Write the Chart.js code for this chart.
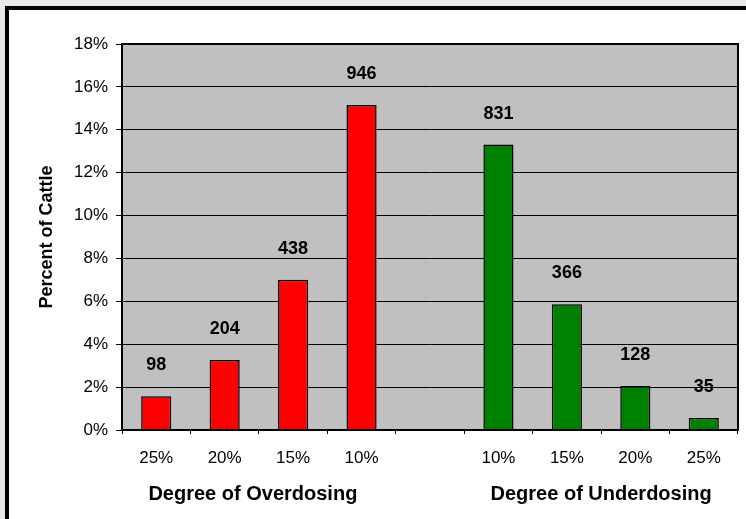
<!DOCTYPE html>
<html>
<head>
<meta charset="utf-8">
<script src="https://cdn.jsdelivr.net/npm/chart.js@4"></script>
<style>
  html, body { margin: 0; padding: 0; background: #e8e8e8; overflow: hidden; width: 746px; height: 519px; }
  #frame { position: absolute; left: 5px; top: 6px; width: 800px; height: 600px; border: 4px solid #000; background: #fff; }
  #wrap { position: absolute; left: 0; top: 0; width: 746px; height: 519px; }
</style>
</head>
<body>
<div id="frame"></div>
<div id="wrap"><canvas id="cattleChart" width="746" height="519"></canvas></div>
<script>
// Data
const categories = ['25%', '20%', '15%', '10%', '', '10%', '15%', '20%', '25%'];
const percentCattle = [1.57, 3.27, 7.01, 15.15, null, 13.31, 5.86, 2.05, 0.56];
const cattleCounts = [98, 204, 438, 946, null, 831, 366, 128, 35];
const groupLabels = ['Degree of Overdosing', 'Degree of Underdosing'];
const groupRanges = [[0, 3], [5, 8]];
const yTitle = 'Percent of Cattle';

const FONT = "'Liberation Sans', Arial, sans-serif";

const plotBackground = {
  id: 'plotBackground',
  beforeDraw(chart) {
    const { ctx, chartArea: a } = chart;
    ctx.save();
    ctx.fillStyle = '#c0c0c0';
    ctx.fillRect(a.left, a.top, a.right - a.left, a.bottom - a.top);
    ctx.restore();
  },
  afterDraw(chart) {
    const { ctx, chartArea: a } = chart;
    ctx.save();
    ctx.strokeStyle = '#000';
    ctx.lineWidth = 2;
    ctx.strokeRect(a.left, a.top, a.right - a.left, a.bottom - a.top);
    ctx.restore();
  }
};

// counts above each bar
const valueLabels = {
  id: 'valueLabels',
  afterDatasetsDraw(chart) {
    const { ctx } = chart;
    const meta = chart.getDatasetMeta(0);
    ctx.save();
    ctx.font = 'bold 18px ' + FONT;
    ctx.fillStyle = '#000';
    ctx.textAlign = 'center';
    ctx.textBaseline = 'middle';
    meta.data.forEach((bar, i) => {
      if (cattleCounts[i] == null) return;
      ctx.fillText(String(cattleCounts[i]), bar.x, bar.y - 31);
    });
    ctx.restore();
  }
};

// "Degree of ..." under each group of bars
const groupTitles = {
  id: 'groupTitles',
  afterDraw(chart) {
    const { ctx } = chart;
    const x = chart.scales.x;
    ctx.save();
    ctx.font = 'bold 20px ' + FONT;
    ctx.fillStyle = '#000';
    ctx.textAlign = 'center';
    ctx.textBaseline = 'middle';
    groupLabels.forEach((label, g) => {
      const [a, b] = groupRanges[g];
      const cx = (x.getPixelForTick(a) + x.getPixelForTick(b)) / 2;
      ctx.fillText(label, g === 0 ? cx - 6 : cx, 494);
    });
    ctx.restore();
  }
};

new Chart(document.getElementById('cattleChart').getContext('2d'), {
  type: 'bar',
  data: {
    labels: categories,
    datasets: [{
      data: percentCattle,
      backgroundColor: categories.map((c, i) => i < 4 ? '#ff0000' : '#008000'),
      borderColor: '#000',
      borderWidth: 1.5,
      barPercentage: 0.44,
      categoryPercentage: 1
    }]
  },
  options: {
    responsive: false,
    animation: false,
    layout: { padding: { top: 44, right: 8, left: 0, bottom: 0 } },
    plugins: { legend: { display: false }, tooltip: { enabled: false } },
    scales: {
      x: {
        afterFit: s => { s.height = 89; },
        grid: { drawOnChartArea: false, color: '#000', tickLength: 4 },
        border: { color: '#000', width: 2 },
        ticks: { color: '#000', padding: 14, font: { family: FONT, size: 17 } }
      },
      y: {
        min: 0,
        max: 18,
        afterFit: s => { s.width = 122; },
        grid: { color: '#000', lineWidth: 1, tickLength: 6 },
        border: { color: '#000', width: 2 },
        ticks: { stepSize: 2, color: '#000', padding: 8, font: { family: FONT, size: 17 }, callback: v => v + '%' },
        title: { display: true, text: yTitle, color: '#000', padding: { top: 36, bottom: 0 }, font: { family: FONT, size: 18, weight: 'bold' } }
      }
    }
  },
  plugins: [plotBackground, valueLabels, groupTitles]
});
</script>
</body>
</html>
